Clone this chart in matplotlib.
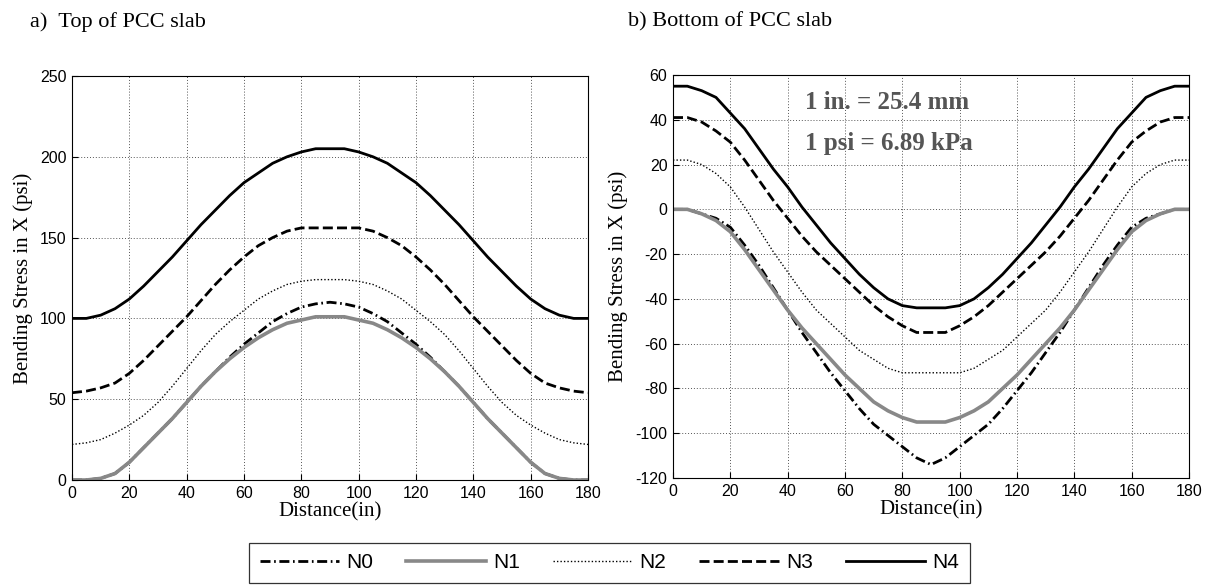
import matplotlib
matplotlib.use("Agg")
import matplotlib.pyplot as plt
import numpy as np

# distance along the slab (in), first half; curves are symmetric about 90
x_half = [0, 5, 10, 15, 20, 25, 30, 35, 40, 45, 50, 55, 60, 65, 70, 75, 80, 85, 90]

# a) top of PCC slab
top_N0 = [0, 0, 1, 4, 11, 20, 29, 38, 48, 58, 67, 76, 84, 91, 98, 103, 107, 109, 110]
top_N1 = [0, 0, 1, 4, 11, 20, 29, 38, 48, 58, 67, 75, 82, 88, 93, 97, 99, 101, 101]
top_N2 = [22, 23, 25, 29, 34, 40, 48, 58, 69, 80, 90, 98, 105, 112, 117, 121, 123, 124, 124]
top_N3 = [54, 55, 57, 60, 66, 74, 83, 92, 101, 111, 121, 130, 138, 145, 150, 154, 156, 156, 156]
top_N4 = [100, 100, 102, 106, 112, 120, 129, 138, 148, 158, 167, 176, 184, 190, 196, 200, 203, 205, 205]

# b) bottom of PCC slab
bot_N0 = [0, 0, -2, -4, -8, -16, -25, -35, -45, -55, -64, -73, -81, -89, -96, -101, -106, -111, -114]
bot_N1 = [0, 0, -2, -5, -10, -18, -27, -36, -45, -53, -60, -67, -74, -80, -86, -90, -93, -95, -95]
bot_N2 = [22, 22, 20, 16, 10, 1, -9, -19, -28, -37, -45, -51, -57, -63, -67, -71, -73, -73, -73]
bot_N3 = [41, 41, 39, 35, 30, 22, 13, 4, -4, -12, -19, -25, -31, -37, -43, -48, -52, -55, -55]
bot_N4 = [55, 55, 53, 50, 43, 36, 27, 18, 10, 1, -7, -15, -22, -29, -35, -40, -43, -44, -44]

names = ["N0", "N1", "N2", "N3", "N4"]
styles = [
    dict(color="black", lw=2.0, ls=(0, (3.6, 1.3, 0.6, 1.3))),
    dict(color="#888888", lw=2.6, ls="-"),
    dict(color="black", lw=1.0, ls=(0, (1, 1.5))),
    dict(color="black", lw=2.0, ls=(0, (3.6, 1.5))),
    dict(color="black", lw=2.0, ls="-"),
]


def mirror(v):
    return list(v) + list(v[-2::-1])


x_full = x_half + [180 - d for d in x_half[-2::-1]]

plt.rcParams["font.family"] = ["Liberation Sans", "DejaVu Sans"]
plt.rcParams["axes.unicode_minus"] = False
fig = plt.figure(figsize=(12.09, 5.87), dpi=100)
W, H = 1209, 587
ax1 = fig.add_axes([72 / W, 1 - 480 / H, (588 - 72) / W, (480 - 76) / H])
ax2 = fig.add_axes([673 / W, 1 - 478 / H, (1189 - 673) / W, (478 - 75) / H])

serif = ["Liberation Serif", "DejaVu Serif"]

lines = []
for ax, data, lim, step in [
    (ax1, [top_N0, top_N1, top_N2, top_N3, top_N4], (0, 250), 50),
    (ax2, [bot_N0, bot_N1, bot_N2, bot_N3, bot_N4], (-120, 60), 20),
]:
    hs = []
    for name, vals, st in zip(names, data, styles):
        h, = ax.plot(x_full, mirror(vals), label=name, **st)
        hs.append(h)
    lines = hs
    ax.set_xlim(0, 180)
    ax.set_ylim(*lim)
    ax.set_xticks(np.arange(0, 181, 20))
    ax.set_yticks(np.arange(lim[0], lim[1] + 1, step))
    ax.grid(True, color="#555555", ls=(0, (1, 2)), lw=0.7)
    ax.tick_params(direction="in", length=4, labelsize=11.5, pad=4)
    ax.set_xlabel("Distance(in)", family=serif, fontsize=15, labelpad=1)
    ax.set_ylabel("Bending Stress in X (psi)", family=serif, fontsize=15, labelpad=5)
    for s in ax.spines.values():
        s.set_linewidth(0.8)

fig.text(30 / W, 1 - 22 / H, "a)  Top of PCC slab", family=serif, fontsize=16, va="center")
fig.text(628 / W, 1 - 22 / H, "b) Bottom of PCC slab", family=serif, fontsize=16, va="center")

ax2.text(46, 47.5, "1 in. = 25.4 mm", family=serif, fontsize=18, fontweight="bold",
         color="#555555", va="center")
ax2.text(46, 29.6, "1 psi = 6.89 kPa", family=serif, fontsize=18, fontweight="bold",
         color="#555555", va="center")

leg = fig.legend(lines, names, loc="center", ncol=5, mode="expand",
                 bbox_to_anchor=(239 / W, 1 - 585 / H, 741 / W, 44 / H),
                 prop={"family": ["Liberation Sans Narrow", "Liberation Sans"], "size": 15},
                 handlelength=3.8, handletextpad=0.35,
                 fancybox=False, edgecolor="black", borderpad=0.5)
leg.get_frame().set_linewidth(0.9)

fig.savefig("out.png", dpi=100)
